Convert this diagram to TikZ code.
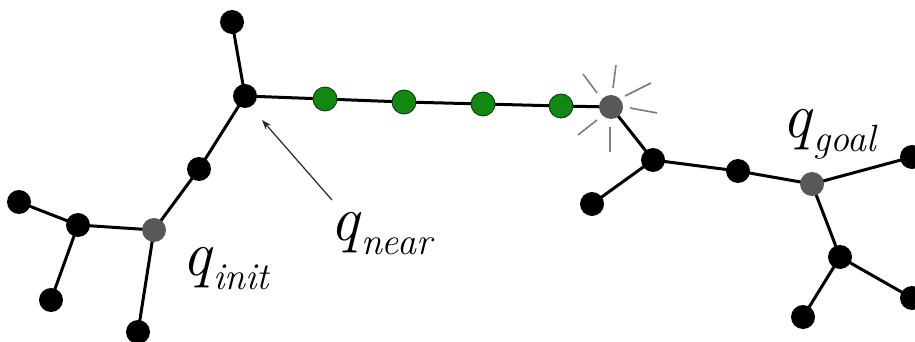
\documentclass[tikz,border=0pt]{standalone}
\usepackage{fontspec}
\usetikzlibrary{arrows.meta,backgrounds}
\definecolor{nodegreen}{RGB}{18,135,18}
\definecolor{nodegray}{RGB}{88,88,88}
\definecolor{raygray}{RGB}{125,125,125}
\tikzset{
  vtx/.style={circle,inner sep=0pt,minimum size=24pt,fill=black},
  grn/.style={circle,inner sep=0pt,minimum size=24pt,fill=nodegreen,draw=black!60!nodegreen,line width=0.8pt},
  gry/.style={circle,inner sep=0pt,minimum size=24pt,fill=nodegray},
  edge/.style={line width=3pt,black},
  ray/.style={line width=1.6pt,raygray},
  lbl/.style={inner sep=0pt,anchor=base west,font=\fontsize{64}{64}\selectfont\itshape},
  pointer/.style={line width=1.2pt,black!85,-{Stealth[length=10pt,width=7pt]}}
}
\newcommand{\qlabel}[1]{q\hspace{2pt}\raisebox{-14pt}{\fontsize{38}{38}\selectfont #1}}
\begin{document}
\begin{tikzpicture}[x=1pt,y=-1pt]
\useasboundingbox (0,0) rectangle (915,342);
\clip (0,0) rectangle (915,342);
% left tree
\node[vtx] (top) at (232,22) {};
\node[vtx] (near) at (245,96) {};
\node[vtx] (mid) at (199,169) {};
\node[gry] (init) at (154,230) {};
\node[vtx] (l1) at (78,225) {};
\node[vtx] (l2) at (19,202) {};
\node[vtx] (l3) at (51,300) {};
\node[vtx] (l4) at (138,332) {};
% new branch
\node[grn] (g1) at (325,99) {};
\node[grn] (g2) at (404,102) {};
\node[grn] (g3) at (483,104) {};
\node[grn] (g4) at (561,106) {};
\node[gry] (star) at (611,107) {};
% right tree
\node[vtx] (r1) at (653,160) {};
\node[vtx] (r2) at (592,204) {};
\node[vtx] (r3) at (738,171) {};
\node[gry] (goal) at (812,184) {};
\node[vtx] (r4) at (912,157) {};
\node[vtx] (r5) at (840,257) {};
\node[vtx] (r6) at (803,317) {};
\node[vtx] (r7) at (912,298) {};
% edges behind the nodes
\begin{scope}[on background layer]
\draw[edge] (top.center) -- (near.center) -- (mid.center) -- (init.center) -- (l1.center) -- (l2.center);
\draw[edge] (l1.center) -- (l3.center);
\draw[edge] (init.center) -- (l4.center);
\draw[edge] (near.center) -- (g1.center) -- (g2.center) -- (g3.center) -- (g4.center) -- (star.center);
\draw[edge] (star.center) -- (r1.center) -- (r3.center) -- (goal.center) -- (r4.center);
\draw[edge] (r1.center) -- (r2.center);
\draw[edge] (goal.center) -- (r5.center) -- (r6.center);
\draw[edge] (r5.center) -- (r7.center);
\end{scope}
% collision rays
\draw[ray] ([shift={(5,-42)}]star.center) -- ([shift={(2,-19)}]star.center);
\draw[ray] ([shift={(-28,-33)}]star.center) -- ([shift={(-14,-14)}]star.center);
\draw[ray] ([shift={(40,-24)}]star.center) -- ([shift={(14,-11)}]star.center);
\draw[ray] ([shift={(19,1)}]star.center) -- ([shift={(46,6)}]star.center);
\draw[ray] ([shift={(-33,28)}]star.center) -- ([shift={(-14,13)}]star.center);
\draw[ray] ([shift={(-1,20)}]star.center) -- ([shift={(-1,45)}]star.center);
% labels
\node[lbl] (linit) at (182,275) {\qlabel{init}};
\node[lbl] (lnear) at (330,240) {\qlabel{near}};
\node[lbl] (lgoal) at (782,137) {\qlabel{goal}};
% pointer
\coordinate (ptail) at (332,200);
\coordinate (ptip) at (262,120);
\draw[pointer] (ptail) -- (ptip);
\end{tikzpicture}
\end{document}
